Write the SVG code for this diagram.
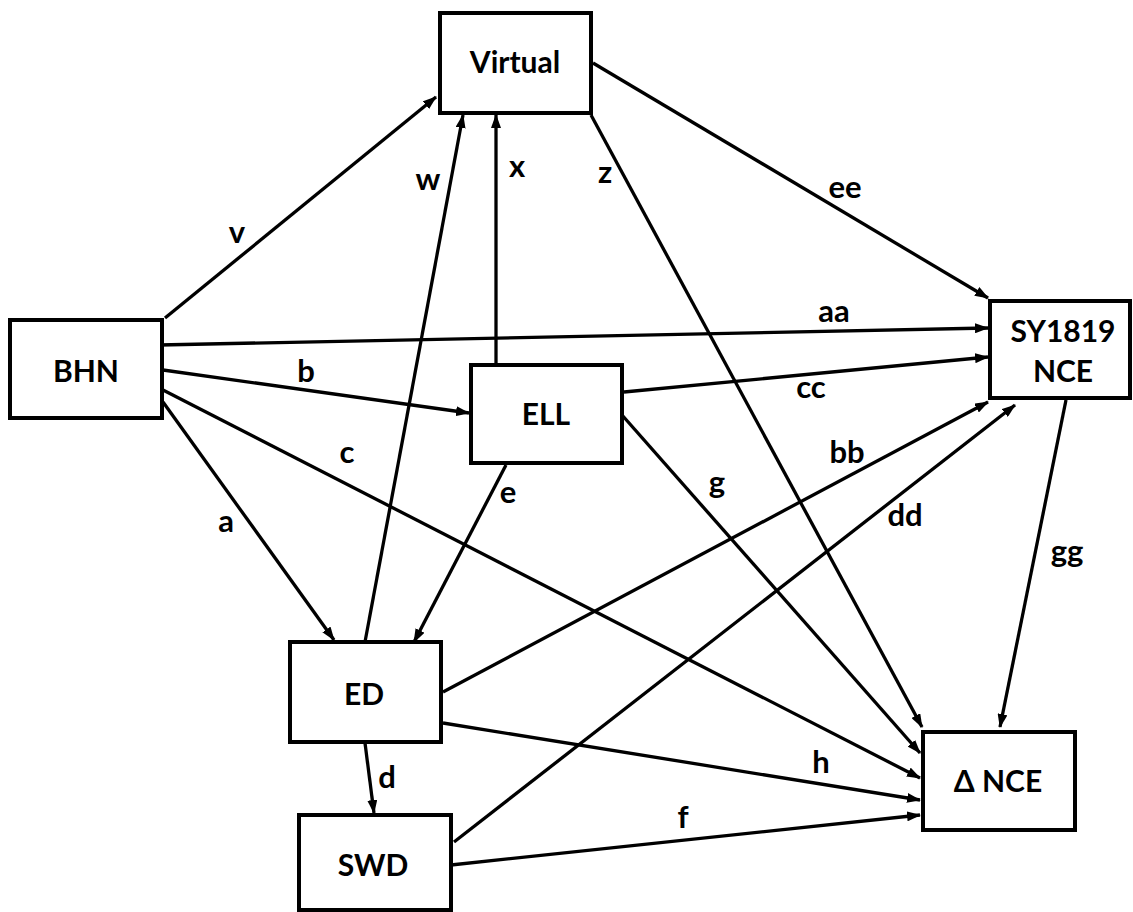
<svg xmlns="http://www.w3.org/2000/svg" width="1133" height="912" viewBox="0 0 1133 912">
<style>
.box{fill:#fff;stroke:#000;stroke-width:4}
.lbl{font-family:Lato,"Open Sans","DejaVu Sans",sans-serif;font-weight:700;font-size:30px;fill:#000;text-anchor:middle}
.edge{stroke:#000;stroke-width:3.3;fill:none;marker-end:url(#ah)}
.el{font-family:Lato,"Open Sans","DejaVu Sans",sans-serif;font-weight:700;font-size:31px;fill:#000;text-anchor:middle}
</style>
<defs>
<marker id="ah" viewBox="0 0 14 10" refX="13" refY="5" markerWidth="14" markerHeight="10" markerUnits="userSpaceOnUse" orient="auto">
<path d="M0,0 L14,5 L0,10 z" fill="#000"/>
</marker>
</defs>
<rect width="1133" height="912" fill="#fff"/>
<g id="connectors">
<line class="edge" x1="165" y1="318" x2="436" y2="97"/>
<line class="edge" x1="365" y1="642" x2="463" y2="115"/>
<line class="edge" x1="496" y1="365" x2="496" y2="115"/>
<line class="edge" x1="159" y1="345" x2="988" y2="328"/>
<line class="edge" x1="163" y1="370" x2="469" y2="413"/>
<line class="edge" x1="163" y1="390" x2="920" y2="778"/>
<line class="edge" x1="163" y1="402" x2="334" y2="640"/>
<line class="edge" x1="593" y1="63" x2="988" y2="298"/>
<line class="edge" x1="591" y1="115" x2="922" y2="727"/>
<line class="edge" x1="624" y1="392" x2="988" y2="357"/>
<line class="edge" x1="622" y1="415" x2="920" y2="753"/>
<line class="edge" x1="443" y1="692" x2="988" y2="402"/>
<line class="edge" x1="454" y1="842" x2="1015" y2="405"/>
<line class="edge" x1="1066" y1="400" x2="1000" y2="727"/>
<line class="edge" x1="506" y1="465" x2="414" y2="642"/>
<line class="edge" x1="365" y1="743" x2="374" y2="813"/>
<line class="edge" x1="443" y1="723" x2="920" y2="800"/>
<line class="edge" x1="451" y1="865" x2="920" y2="815"/>
<text class="el" x="237" y="243">v</text>
<text class="el" x="428" y="190">w</text>
<text class="el" x="517" y="177">x</text>
<text class="el" x="306" y="382">b</text>
<text class="el" x="347" y="463">c</text>
<text class="el" x="226" y="532">a</text>
<text class="el" x="508" y="503">e</text>
<text class="el" x="717" y="493">g</text>
<text class="el" x="387" y="788">d</text>
<text class="el" x="683" y="828">f</text>
<text class="el" x="605" y="183">z</text>
<text class="el" x="845" y="198">ee</text>
<text class="el" x="834" y="322">aa</text>
<text class="el" x="811" y="398">cc</text>
<text class="el" x="847" y="463">bb</text>
<text class="el" x="905" y="526">dd</text>
<text class="el" x="1067" y="562">gg</text>
<text class="el" x="821" y="773">h</text>
</g>
<g id="virtual"><rect class="box" x="440" y="13" width="151" height="100"/><text class="lbl" x="515" y="73">Virtual</text></g>
<g id="bhn"><rect class="box" x="10" y="320" width="152" height="98"/><text class="lbl" x="86" y="382">BHN</text></g>
<g id="ell"><rect class="box" x="471" y="365" width="151" height="98"/><text class="lbl" x="546" y="425">ELL</text></g>
<g id="sy1819"><rect class="box" x="990" y="301" width="140" height="97"/><text class="lbl" x="1063" y="342">SY1819</text><text class="lbl" x="1063" y="382">NCE</text></g>
<g id="ed"><rect class="box" x="290" y="642" width="151" height="100"/><text class="lbl" x="364" y="705">ED</text></g>
<g id="swd"><rect class="box" x="299" y="815" width="152" height="95"/><text class="lbl" x="373" y="876">SWD</text></g>
<g id="dnce"><rect class="box" x="923" y="732" width="152" height="98"/><text class="lbl" x="998" y="792">Δ NCE</text></g>
</svg>
